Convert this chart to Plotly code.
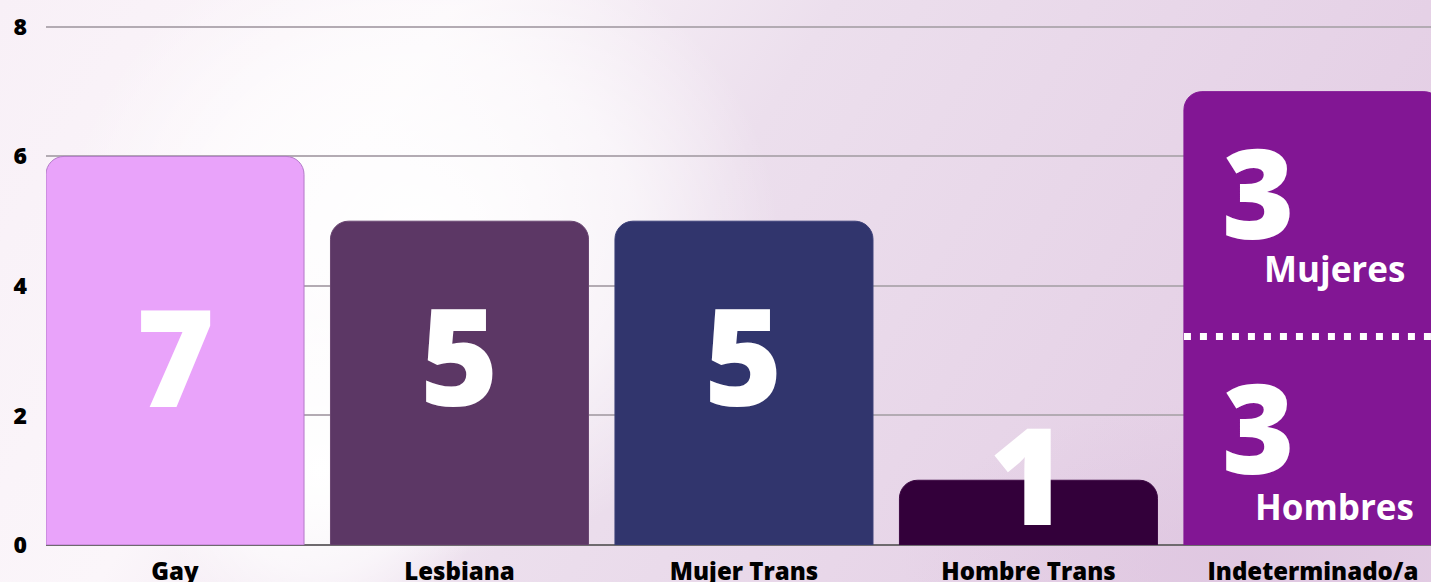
import base64
import plotly.graph_objects as go

# ---- data ----
categories = ["Gay", "Lesbiana", "Mujer Trans", "Hombre Trans", "Indeterminado/a"]
values = [6, 5, 5, 1, 7]
bar_colors = ["#E9A3FA", "#5C3765", "#31356D", "#33003A", "#821694"]
line_colors = ["#B27AC8", "#6A4672", "#3C4078", "#3D0A44", "#821694"]
big_labels = ["7", "5", "5", "1"]
big_label_y = [2.94, 2.95, 2.95, 1.11]
split_numbers = ["3", "3"]
split_words = ["Mujeres", "Hombres"]
split_number_y = [5.47, 1.84]
split_word_y = [4.27, 0.59]
split_line_y = 3.22
y_ticks = [0, 2, 4, 6, 8]

W, H = 1431, 582
YMAX = 8.06
ML, MR, MB = 46, 0, 37
PH = round(YMAX * 64.75)
MT = H - MB - PH
PW = W - ML - MR

# ---- watercolor-like background as SVG ----
svg = f"""<svg xmlns='http://www.w3.org/2000/svg' width='{W}' height='{H}' viewBox='0 0 {W} {H}'>
<defs>
<linearGradient id='g' x1='0' y1='0' x2='1' y2='0.25'>
<stop offset='0' stop-color='#f8f0f7'/>
<stop offset='0.3' stop-color='#fbf6fa'/>
<stop offset='0.55' stop-color='#ecdfed'/>
<stop offset='1' stop-color='#e4cfe5'/>
</linearGradient>
<radialGradient id='r1' cx='0.5' cy='0.5' r='0.5'>
<stop offset='0' stop-color='#ffffff' stop-opacity='1'/>
<stop offset='0.6' stop-color='#ffffff' stop-opacity='0.6'/>
<stop offset='1' stop-color='#ffffff' stop-opacity='0'/>
</radialGradient>
<radialGradient id='r2' cx='0.5' cy='0.5' r='0.5'>
<stop offset='0' stop-color='#dcc2de' stop-opacity='0.6'/>
<stop offset='1' stop-color='#dcc2de' stop-opacity='0'/>
</radialGradient>
</defs>
<rect width='{W}' height='{H}' fill='url(#g)'/>
<ellipse cx='420' cy='240' rx='360' ry='320' fill='url(#r1)'/>
<ellipse cx='320' cy='470' rx='170' ry='170' fill='url(#r1)'/>
<ellipse cx='1250' cy='560' rx='350' ry='160' fill='url(#r2)'/>
</svg>"""
src = "data:image/svg+xml;base64," + base64.b64encode(svg.encode()).decode()

fig = go.Figure()
fig.add_trace(go.Bar(
    x=list(range(len(categories))),
    y=values,
    marker=dict(color=bar_colors, line=dict(color=line_colors, width=1), cornerradius=18),
    hoverinfo="skip",
))

big_font = dict(family="Open Sans, sans-serif", size=134, color="white", weight=800)
word_font = dict(family="Open Sans, sans-serif", size=35, color="white", weight="bold")

for i, (t, yy) in enumerate(zip(big_labels, big_label_y)):
    fig.add_annotation(x=i, y=yy, text=t, showarrow=False, font=big_font,
                       xanchor="center", yanchor="middle")

xi = len(categories) - 1
for t, yy in zip(split_numbers, split_number_y):
    fig.add_annotation(x=xi - 0.19, y=yy, text=t, showarrow=False,
                       font=dict(big_font, size=124), xanchor="center", yanchor="middle")
for w, yy in zip(split_words, split_word_y):
    fig.add_annotation(x=xi + 0.075, y=yy, text=w, showarrow=False, font=word_font,
                       xanchor="center", yanchor="middle")

fig.add_shape(type="line", xref="x", yref="y", x0=xi - 0.4535, x1=xi + 0.6,
              y0=split_line_y, y1=split_line_y,
              line=dict(color="white", width=7, dash="7px,9px"))

fig.add_layout_image(dict(
    source=src, xref="paper", yref="paper",
    x=-ML / PW, y=1 + MT / PH, sizex=W / PW, sizey=H / PH,
    xanchor="left", yanchor="top", sizing="stretch", layer="below",
))

fig.update_layout(
    width=W, height=H,
    margin=dict(l=ML, r=MR, t=MT, b=MB, pad=0, autoexpand=False),
    paper_bgcolor="#f3e9f3",
    plot_bgcolor="rgba(0,0,0,0)",
    showlegend=False,
    bargap=0.093,
    xaxis=dict(
        range=[-0.4535, 4.415],
        tickmode="array", tickvals=list(range(len(categories))), ticktext=categories,
        tickfont=dict(family="Open Sans, sans-serif", size=24, color="black", weight=800),
        showgrid=False, zeroline=False, showline=False, ticks="",
        ticklabelstandoff=10, automargin=False,
    ),
    yaxis=dict(
        range=[0, YMAX],
        tickvals=y_ticks,
        tickfont=dict(family="Open Sans, sans-serif", size=23, color="black", weight=800),
        showgrid=True, gridcolor="#b3abb3", gridwidth=2,
        zeroline=True, zerolinecolor="#6e6a6e", zerolinewidth=2,
        showline=False, ticks="", ticklabelstandoff=18, automargin=False,
    ),
)

fig.write_html(
    "out.html",
    config={"displayModeBar": False},
    post_script="document.body.style.margin='0';document.body.style.overflow='hidden';",
)
